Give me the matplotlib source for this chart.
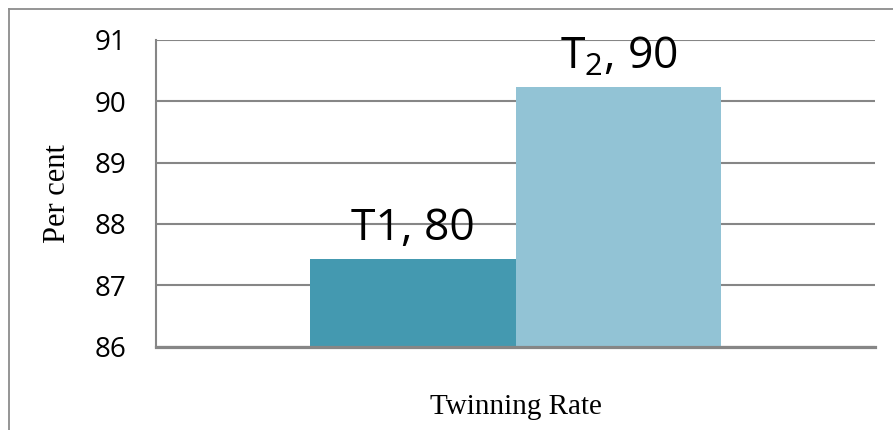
import matplotlib
matplotlib.use("Agg")
import matplotlib.pyplot as plt
from matplotlib.lines import Line2D

# Data
category = "Twinning Rate"
series_names = ["T1", "T2"]
values = [87.43, 90.23]
bar_labels = ["T1, 80", "T$_\\mathregular{2}$, 90"]
colors = ["#4499B0", "#92C3D5"]
yticks = [86, 87, 88, 89, 90, 91]

plt.rcParams["mathtext.fontset"] = "custom"
plt.rcParams["mathtext.rm"] = "Open Sans"

W, H, DPI = 893, 430, 100
fig = plt.figure(figsize=(W / DPI, H / DPI), dpi=DPI)
fig.patch.set_facecolor("white")

# chart frame (top and left edges of the chart area border)
frame_col = "#8c8c8c"
fig.add_artist(Line2D([9 / W, 1.0], [1 - 8.5 / H, 1 - 8.5 / H], transform=fig.transFigure,
                      color=frame_col, lw=1.3))
fig.add_artist(Line2D([9 / W, 9 / W], [0.0, 1 - 8.5 / H], transform=fig.transFigure,
                      color=frame_col, lw=1.3))

left, right = 156 / W, 875 / W
bottom, top = 1 - 346.5 / H, 1 - 40 / H
ax = fig.add_axes([left, bottom, right - left, top - bottom])

bar_w = 0.286
offsets = [-bar_w / 2, bar_w / 2]
for off, v, c, lab in zip(offsets, values, colors, bar_labels):
    ax.bar(off, v - yticks[0], bottom=yticks[0], width=bar_w, color=c, zorder=3)
    ax.annotate(lab, (off, v), xytext=(0, 13.5), textcoords="offset points",
                ha="center", va="baseline", fontsize=32, family="Open Sans",
                color="black", zorder=4)

ax.set_xlim(-0.5, 0.5)
ax.set_ylim(yticks[0], yticks[-1])
ax.set_yticks(yticks)
ax.set_yticklabels([str(t) for t in yticks], fontsize=20, family="Open Sans")
ax.tick_params(axis="y", length=0, pad=21)
ax.set_xticks([])

ax.grid(axis="y", color="#868686", lw=1.5, zorder=1)
for s in ["top", "right"]:
    ax.spines[s].set_visible(False)
ax.spines["left"].set_color("#868686")
ax.spines["left"].set_linewidth(1.5)
ax.spines["bottom"].set_color("#868686")
ax.spines["bottom"].set_linewidth(2.3)
ax.spines["bottom"].set_zorder(5)

ax.set_ylabel("Per cent", fontsize=22, family="Liberation Serif")
ax.yaxis.set_label_coords((58 - 156) / 719, 0.5)
ax.yaxis.label.set_va("center")

ax.set_xlabel(category, fontsize=21, family="Liberation Serif")
ax.xaxis.set_label_coords(0.5, (346.5 - 407.5) / 306.5)
ax.xaxis.label.set_va("center")

fig.savefig("out.png", dpi=DPI, facecolor="white")
